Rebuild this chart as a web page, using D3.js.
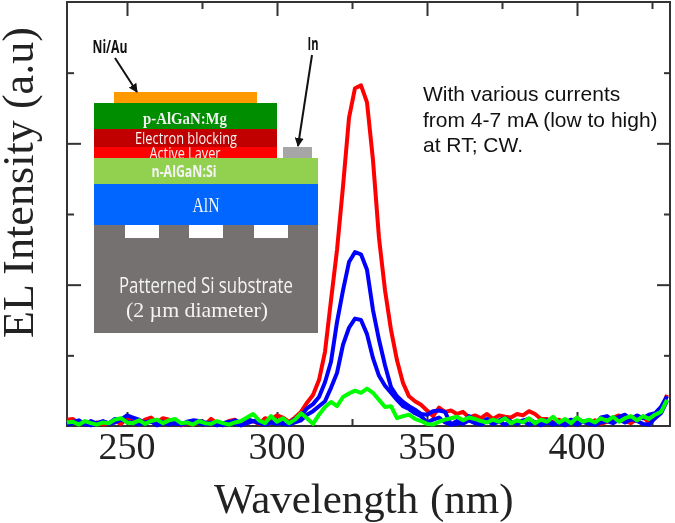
<!DOCTYPE html>
<html>
<head>
<meta charset="utf-8">
<script src="https://cdn.jsdelivr.net/npm/d3@7"></script>
<style>
  html, body { margin: 0; padding: 0; background: #fff; }
  svg { display: block; filter: blur(0.45px); }
  text { font-family: "Liberation Serif", serif; fill: #222; }
</style>
</head>
<body>
<div id="chart"></div>
<script>
// wavelengths (nm), one sample every 2 nm
var wavelength = [230,232,234,236,238,240,242,244,246,248,250,252,254,256,258,260,262,264,266,268,
  270,272,274,276,278,280,282,284,286,288,290,292,294,296,298,300,302,304,306,308,
  310,312,314,316,318,320,322,324,326,328,330,332,334,336,338,340,342,344,346,348,
  350,352,354,356,358,360,362,364,366,368,370,372,374,376,378,380,382,384,386,388,
  390,392,394,396,398,400,402,404,406,408,410,412,414,416,418,420,422,424,426,428,430];

// EL intensity, in units of one y tick
var red7mA = [.09,.10,.03,.06,.02,.05,.02,.04,.07,.03,.11,.06,.02,.09,.12,.05,.11,.09,.04,.01,
  .04,.02,.06,.02,.10,.04,.02,.07,.09,.01,.04,.07,.03,.11,.09,.15,.12,.06,.12,.20,
  .33,.44,.65,1.05,1.78,2.49,3.39,4.36,4.78,4.82,4.58,3.76,2.66,1.92,1.36,.93,.61,.42,.35,.30,
  .22,.14,.26,.20,.22,.17,.20,.12,.15,.11,.17,.10,.15,.13,.12,.17,.15,.21,.17,.10,
  .10,.05,.09,.04,.07,.11,.06,.04,.08,.03,.06,.12,.15,.07,.04,.10,.13,.05,.11,.21,.44];
var blue6mA = [.02,.06,.08,.02,.07,.03,.06,.04,.10,.09,.15,.12,.09,.04,.06,.03,.06,.02,.05,.02,
  .06,.08,.07,.05,.03,.04,.01,.05,.08,.04,.10,.07,.07,.03,.05,.03,.07,.04,.10,.14,
  .25,.31,.41,.62,.91,1.47,1.92,2.32,2.46,2.43,2.21,1.64,1.22,.86,.55,.42,.34,.28,.23,.17,
  .16,.21,.22,.20,.02,.03,.05,.14,.07,.05,.10,.04,.08,.11,.06,.05,.08,.10,.05,.03,
  .08,.04,.03,.05,.09,.05,.06,.03,.02,.12,.14,.08,.13,.16,.09,.15,.11,.16,.18,.27,.42];
var blue5mA = [.02,.04,.06,.03,.01,.04,.07,.03,.05,.09,.06,.05,.02,.05,.07,.01,.04,.06,.03,.02,
  .04,.07,.04,.02,.05,.01,.04,.06,.03,.01,.04,.07,.04,.02,.05,.06,.03,.02,.05,.08,
  .16,.21,.28,.35,.54,.75,1.15,1.39,1.52,1.50,1.30,.96,.71,.57,.47,.37,.28,.24,.18,.14,
  .05,.09,.12,.05,.02,.07,.03,.08,.04,.02,.07,.03,.06,.02,.06,.03,.07,.02,.05,.01,
  .05,.02,.06,.01,.05,.02,.06,.07,.02,.05,.07,.04,.09,.05,.10,.07,.03,.02,.11,.18,.36];
var green4mA = [.05,.06,.02,.07,.04,.02,.05,.04,.09,.11,.05,.04,.08,.03,.07,.09,.04,.08,.10,.04,
  .05,.02,.07,.04,.03,.07,.04,.02,.05,.07,.12,.17,.08,.04,.14,.06,.11,.04,.09,.18,
  .11,.03,.16,.27,.34,.28,.41,.46,.50,.47,.53,.47,.37,.27,.28,.11,.14,.16,.10,.07,
  .03,.02,.06,.09,.11,.13,.08,.12,.10,.07,.05,.09,.06,.11,.04,.08,.05,.11,.04,.09,
  .06,.13,.05,.10,.04,.12,.06,.09,.05,.11,.07,.13,.06,.11,.14,.08,.14,.10,.16,.20,.37];

var xTicksMajor = [250, 300, 350, 400];
var xTicksMinor = [275, 325, 375, 425];
var yTicksMajor = [2, 4];
var yTicksMinor = [1, 3, 5];

var seriesValues = [red7mA, blue6mA, blue5mA, green4mA];
var seriesColors = ['#ff0000', '#0000ff', '#0000ff', '#00ff00'];

var width = 675,
  height = 523;

var x = d3.scaleLinear().domain([230, 431]).range([67, 670]);
var y = d3.scaleLinear().domain([0, 6]).range([426, 2]);

var svg = d3.select('#chart')
  .append('svg')
  .attr('width', width)
  .attr('height', height);

//Frame
svg.append('rect')
  .attr('x', x.range()[0])
  .attr('y', y.range()[1])
  .attr('width', x.range()[1] - x.range()[0])
  .attr('height', y.range()[0] - y.range()[1])
  .attr('fill', 'none')
  .attr('stroke', '#333')
  .attr('stroke-width', 2);

//Axes, ticks point into the plot
function tickAxis(axisFn, scale, values, size, translate) {
  var g = svg.append('g')
    .attr('transform', translate)
    .call(axisFn(scale).tickValues(values).tickSize(size).tickFormat(''));
  g.select('.domain').remove();
  g.selectAll('line').attr('stroke', '#333').attr('stroke-width', 2);
  return g;
}

tickAxis(d3.axisBottom, x, xTicksMajor, -14, 'translate(0,426)');
tickAxis(d3.axisBottom, x, xTicksMinor, -7, 'translate(0,426)');
tickAxis(d3.axisTop, x, xTicksMajor, -14, 'translate(0,2)');
tickAxis(d3.axisTop, x, xTicksMinor, -7, 'translate(0,2)');
tickAxis(d3.axisLeft, y, yTicksMajor, -14, 'translate(67,0)');
tickAxis(d3.axisLeft, y, yTicksMinor, -7, 'translate(67,0)');
tickAxis(d3.axisRight, y, yTicksMajor, -13, 'translate(670,0)');
tickAxis(d3.axisRight, y, yTicksMinor, -6, 'translate(670,0)');

//Tick labels
svg.selectAll('.xlabel')
  .data(xTicksMajor)
  .enter()
  .append('text')
  .attr('class', 'xlabel')
  .attr('x', function(d) { return x(d); })
  .attr('y', 459)
  .attr('text-anchor', 'middle')
  .style('font-size', '38px')
  .text(function(d) { return d; });

//Axis titles
var xTitle = svg.append('text')
  .attr('y', 513)
  .style('font-size', '43px');
xTitle.append('tspan')
  .attr('x', 214)
  .text('Wavelength ');
xTitle.append('tspan')
  .attr('x', 430)
  .text('(nm)');

svg.append('text')
  .attr('transform', 'translate(33,338) rotate(-90)')
  .attr('textLength', 311)
  .style('font-size', '44px')
  .text('EL Intensity (a.u)');

//Inset device structure, drawn before the curves
var inset = svg.append('g');

function layer(px, py, w, h, fill) {
  inset.append('rect')
    .attr('x', px).attr('y', py)
    .attr('width', w).attr('height', h)
    .attr('fill', fill);
}

function label(str, px, py, size, len, family, weight, fill) {
  inset.append('text')
    .attr('x', px).attr('y', py)
    .attr('text-anchor', 'middle')
    .attr('textLength', len)
    .attr('lengthAdjust', 'spacingAndGlyphs')
    .style('font-size', size + 'px')
    .style('font-family', family)
    .style('font-weight', weight)
    .style('fill', fill)
    .text(str);
}

var serif = '"Liberation Serif", serif',
  sans = '"Open Sans", sans-serif';

layer(114, 92, 143, 11, '#ff9900');
layer(94, 103, 183, 26, '#008e00');
layer(94, 129, 183, 18, '#c00000');
layer(94, 147, 183, 11, '#ff0000');
label('p-AlGaN:Mg', 185, 124, 17, 84, serif, 'bold', '#f0f0f0');
label('Electron blocking', 186, 144, 17, 102, sans, 'normal', '#f4f4f4');
label('Active Layer', 185, 159, 17, 71, sans, 'normal', '#f4f4f4');
layer(283, 147, 29, 11, '#a6a6a6');
layer(94, 158, 224, 26, '#92d050');
layer(94, 184, 224, 41, '#0066ff');
layer(94, 225, 224, 108, '#767171');
layer(125, 225, 34, 13, '#ffffff');
layer(189, 225, 34, 13, '#ffffff');
layer(254, 225, 34, 13, '#ffffff');
label('n-AlGaN:Si', 184, 177, 16, 65, sans, 'bold', '#f4f4f4');
label('AlN', 206, 212, 20, 27, serif, 'normal', '#f4f4f4');
label('Patterned Si substrate', 206, 293, 22, 174, sans, 'normal', '#f4f4f4');
label('(2 \u00b5m diameter)', 197, 317, 22, 142, serif, 'normal', '#f4f4f4');
label('Ni/Au', 110, 53, 17, 35, sans, 'bold', '#111');
label('In', 313, 50, 17, 11, sans, 'bold', '#111');

svg.append('defs').append('marker')
  .attr('id', 'arrow')
  .attr('viewBox', '0 0 10 10')
  .attr('refX', 9).attr('refY', 5)
  .attr('markerWidth', 4.5).attr('markerHeight', 4.5)
  .attr('orient', 'auto')
  .append('path')
  .attr('d', 'M0,0L10,5L0,10Z')
  .attr('fill', '#111');

function arrow(x1, y1, x2, y2) {
  inset.append('line')
    .attr('x1', x1).attr('y1', y1)
    .attr('x2', x2).attr('y2', y2)
    .attr('stroke', '#111')
    .attr('stroke-width', 2)
    .attr('marker-end', 'url(#arrow)');
}
arrow(115, 58, 137, 92);
arrow(312, 55, 298, 146);

//Spectra, one line per current
var line = d3.line()
  .x(function(d, i) { return x(wavelength[i]); })
  .y(function(d) { return y(d); });

svg.selectAll('.spectrum')
  .data(seriesValues)
  .enter()
  .append('path')
  .attr('class', 'spectrum')
  .attr('d', line)
  .attr('fill', 'none')
  .attr('stroke', function(d, i) { return seriesColors[i]; })
  .attr('stroke-width', 4)
  .attr('stroke-linejoin', 'round');

//Note at top right
var noteLines = ['With various currents', 'from 4-7 mA (low to high)', 'at RT; CW.'];
var noteBaselines = [101, 127, 152];

svg.selectAll('.note')
  .data(noteLines)
  .enter()
  .append('text')
  .attr('class', 'note')
  .attr('x', 423)
  .attr('y', function(d, i) { return noteBaselines[i]; })
  .style('font-family', '"Liberation Sans", sans-serif')
  .style('font-size', '21px')
  .style('fill', '#111')
  .text(function(d) { return d; });
</script>
</body>
</html>
